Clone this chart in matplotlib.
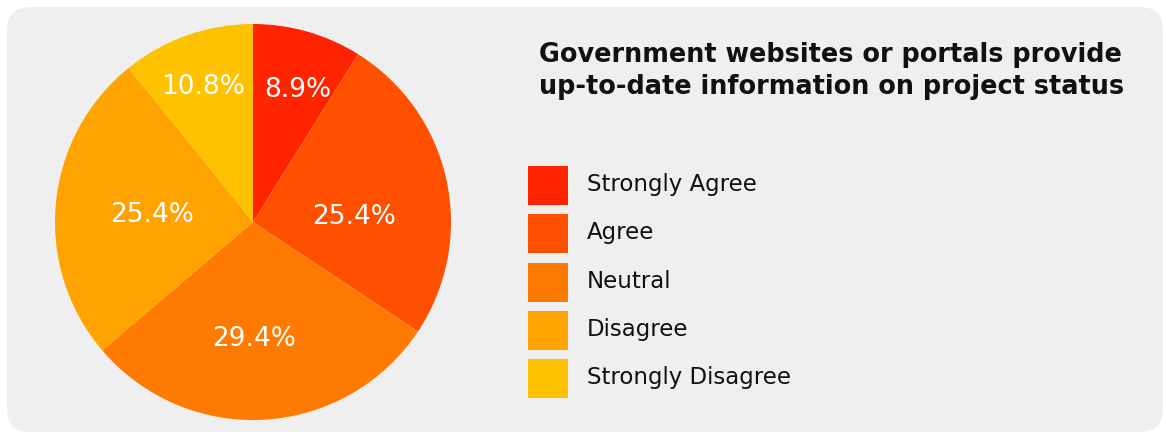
import numpy as np
import matplotlib.pyplot as plt
from matplotlib.patches import FancyBboxPatch, Rectangle

categories = ["Strongly Agree", "Agree", "Neutral", "Disagree", "Strongly Disagree"]
shares = [8.9, 25.4, 29.4, 25.4, 10.8]
colors = ["#FF2400", "#FF5000", "#FF7A00", "#FFA300", "#FFC200"]
title = "Government websites or portals provide\nup-to-date information on project status"

# where each percentage sits: fraction of the radius, and a nudge (degrees)
# away from the middle of its wedge
label_r = [0.705, 0.51, 0.59, 0.51, 0.727]
label_turn = [-2.8, -9.5, -3.1, 1.6, 0.9]

W, H = 1166, 434
fig = plt.figure(figsize=(W / 100, H / 100), dpi=100)
fig.patch.set_facecolor("white")

# grey card behind everything
card = FancyBboxPatch((7 / W, 2 / H), (W - 10) / W, (H - 9) / H,
                      boxstyle="round,pad=0,rounding_size=0.02",
                      transform=fig.transFigure, facecolor="#EFEFEF",
                      edgecolor="none", mutation_aspect=W / H, zorder=-5)
fig.add_artist(card)

# pie
cx, cy, r = 253, 434 - 222, 198
ax = fig.add_axes([(cx - r) / W, (cy - r) / H, 2 * r / W, 2 * r / H])
ax.set_zorder(2)
wedges, _ = ax.pie(shares, colors=colors, startangle=90, counterclock=False,
                   radius=1.0, wedgeprops=dict(linewidth=0))
ax.set_xlim(-1, 1)
ax.set_ylim(-1, 1)
ax.set_aspect("equal")
ax.axis("off")

for w, val, d, turn in zip(wedges, shares, label_r, label_turn):
    mid = np.deg2rad((w.theta1 + w.theta2) / 2 + turn)
    ax.text(d * np.cos(mid), d * np.sin(mid), f"{val}%", color="white",
            ha="center", va="center", fontsize=19, family="DejaVu Sans")

# title (baseline of the last line)
fig.text(539 / W, 1 - 94 / H, title, ha="left", va="baseline", fontsize=18.4,
         fontweight="bold", family="DejaVu Sans", color="#111111",
         linespacing=1.32)

# legend, drawn as swatches plus labels
leg_x, leg_top, box_w, box_h, step = 528, 166, 40, 39, 48.3
for i, (name, c) in enumerate(zip(categories, colors)):
    y0 = H - (leg_top + i * step) - box_h
    fig.add_artist(Rectangle((leg_x / W, y0 / H), box_w / W, box_h / H,
                             transform=fig.transFigure, facecolor=c,
                             edgecolor="none", zorder=3))
    fig.text(587 / W, (y0 + box_h / 2 + 1) / H, name, ha="left", va="center",
             fontsize=16.5, family="DejaVu Sans", color="#111111")

fig.savefig("out.png", dpi=100, facecolor=fig.get_facecolor())
